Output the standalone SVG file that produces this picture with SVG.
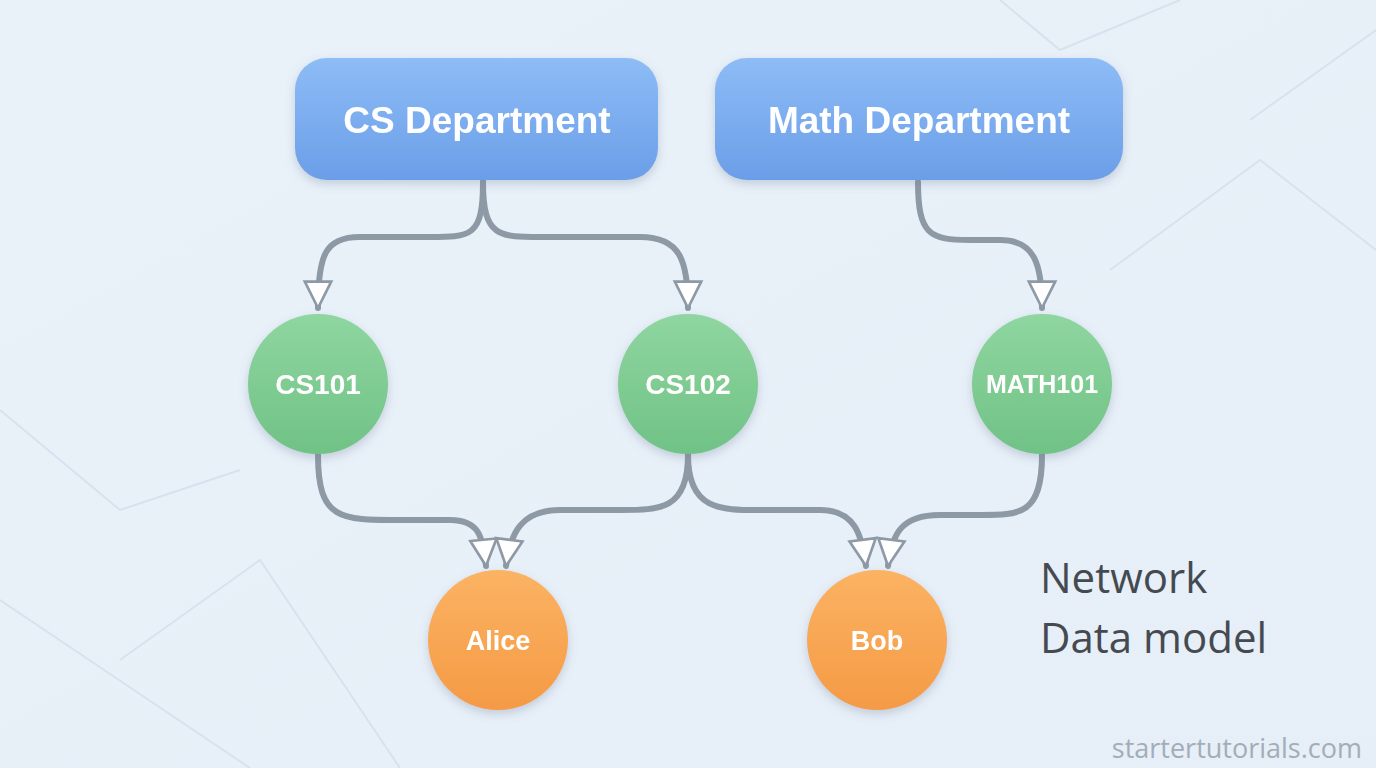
<svg xmlns="http://www.w3.org/2000/svg" width="1376" height="768" viewBox="0 0 1376 768">
<defs>
<linearGradient id="bg" x1="0" y1="0" x2="1" y2="1"><stop offset="0" stop-color="#e9f1f9"/><stop offset="1" stop-color="#e6eef7"/></linearGradient>
<linearGradient id="blue" x1="0" y1="0" x2="0" y2="1"><stop offset="0" stop-color="#8dbcf6"/><stop offset="1" stop-color="#6b9ee8"/></linearGradient>
<linearGradient id="green" x1="0" y1="0" x2="0" y2="1"><stop offset="0" stop-color="#8fd6a0"/><stop offset="1" stop-color="#70c286"/></linearGradient>
<linearGradient id="orange" x1="0" y1="0" x2="0" y2="1"><stop offset="0" stop-color="#fbb363"/><stop offset="1" stop-color="#f59a45"/></linearGradient>
<filter id="sh" x="-20%" y="-20%" width="140%" height="150%"><feDropShadow dx="0" dy="4" stdDeviation="5" flood-color="#6a7f99" flood-opacity="0.3"/></filter>
<marker id="ah" viewBox="0 0 10 10" refX="9" refY="5" markerWidth="5.5" markerHeight="5.5" orient="auto" markerUnits="strokeWidth"><path d="M1,1 L9,5 L1,9 Z" fill="#fff" stroke="#8e99a6" stroke-width="0.8"/></marker>
</defs>
<style>
.lbl{font-family:"Liberation Sans",Arial,sans-serif;fill:#fff;text-anchor:middle;font-weight:600}
.c{fill:none;stroke:#8e99a6;stroke-width:6;stroke-linecap:round;marker-end:url(#ah)}
.bgl{stroke:#d8e2ee;stroke-width:2;fill:none}
</style>
<rect width="1376" height="768" fill="url(#bg)"/>
<g class="bgl"><path d="M0,410 L120,510 L240,470"/><path d="M0,600 L250,768"/><path d="M120,660 L260,560 L400,768"/><path d="M1000,0 L1060,50 L1180,0"/><path d="M1110,270 L1260,160 L1376,250"/><path d="M1250,120 L1376,30"/></g>
<g id="connectors">
<path class="c" d="M483,182 C483,240 470,237 420,237 L360,237 C325,237 318,255 318,308"/>
<path class="c" d="M483,182 C483,240 500,237 550,237 L640,237 C680,237 688,260 688,308"/>
<path class="c" d="M918,182 C918,235 930,240 970,240 L1000,240 C1035,240 1042,265 1042,308"/>
<path class="c" d="M318,455 C318,520 340,520 400,520 L450,520 C478,520 483,535 486,566"/>
<path class="c" d="M688,455 C688,510 660,510 620,510 L560,510 C520,510 510,535 506,566"/>
<path class="c" d="M688,455 C688,510 720,510 760,510 L820,510 C855,510 862,535 866,566"/>
<path class="c" d="M1042,455 C1042,515 1020,515 980,515 L940,515 C900,515 892,535 888,566"/>
</g>
<g id="cs_dept" filter="url(#sh)"><rect x="295" y="58" width="363" height="122" rx="32" fill="url(#blue)"/><text class="lbl" x="477" y="133" font-size="37">CS Department</text></g>
<g id="math_dept" filter="url(#sh)"><rect x="715" y="58" width="408" height="122" rx="32" fill="url(#blue)"/><text class="lbl" x="919" y="133" font-size="37">Math Department</text></g>
<g id="cs101" filter="url(#sh)"><circle cx="318" cy="384" r="70" fill="url(#green)"/><text class="lbl" x="318" y="394" font-size="28">CS101</text></g>
<g id="cs102" filter="url(#sh)"><circle cx="688" cy="384" r="70" fill="url(#green)"/><text class="lbl" x="688" y="394" font-size="28">CS102</text></g>
<g id="math101" filter="url(#sh)"><circle cx="1042" cy="384" r="70" fill="url(#green)"/><text class="lbl" x="1042" y="393" font-size="25">MATH101</text></g>
<g id="alice" filter="url(#sh)"><circle cx="498" cy="640" r="70" fill="url(#orange)"/><text class="lbl" x="498" y="650" font-size="27">Alice</text></g>
<g id="bob" filter="url(#sh)"><circle cx="877" cy="640" r="70" fill="url(#orange)"/><text class="lbl" x="877" y="650" font-size="27">Bob</text></g>
<g id="title" font-family="Open Sans,Liberation Sans,sans-serif" font-size="42" fill="#454a50"><text x="1040" y="593">Network</text><text x="1040" y="653">Data model</text></g>
<text x="1362" y="758" text-anchor="end" font-family="Open Sans,Liberation Sans,sans-serif" font-size="27" fill="#a3adb8">startertutorials.com</text>
</svg>
